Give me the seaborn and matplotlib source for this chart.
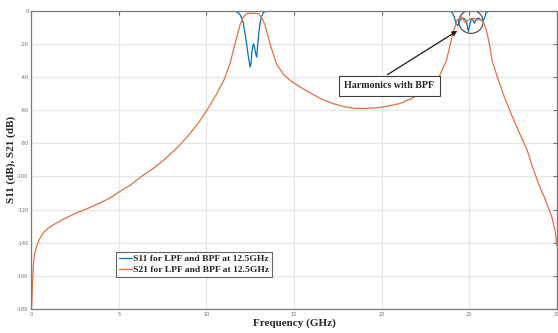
import matplotlib
matplotlib.use("Agg")
import matplotlib.pyplot as plt
from matplotlib.patches import Ellipse
import seaborn as sns
import pandas as pd

# ---- data ----
s11_freq = [0.0, 11.0, 11.5, 11.7, 11.9, 12.0, 12.1, 12.2, 12.3, 12.4, 12.5, 12.55, 12.6,
            12.68, 12.75, 12.82, 12.87, 12.92, 13.0, 13.06, 13.15, 13.25, 13.4, 13.7,
            23.5, 23.9, 24.05, 24.15, 24.25, 24.35, 24.45, 24.6, 24.75, 24.85, 24.95,
            25.02, 25.1, 25.2, 25.3, 25.4, 25.55, 25.7, 25.85, 25.95, 26.1, 26.3, 30.0]
s11_db = [0.0, 0.0, -0.1, -0.5, -2.0, -4.0, -7.0, -13.0, -20.0, -28.0, -34.0, -32.0, -25.0,
          -20.0, -22.0, -26.0, -28.0, -22.0, -13.0, -8.0, -3.5, -1.2, -0.3, 0.0,
          0.0, -0.3, -1.5, -4.0, -8.0, -9.0, -6.0, -4.5, -5.0, -7.0, -12.5,
          -9.0, -5.5, -5.5, -7.5, -5.0, -4.5, -6.0, -5.0, -1.5, -0.3, 0.0, 0.0]

s21_freq = [0.0, 0.04, 0.08, 0.13, 0.2, 0.32, 0.5, 0.7, 1.0, 1.47, 2.0, 2.6, 3.3, 3.94,
            4.5, 5.08, 5.7, 6.3, 7.0, 7.7, 8.4, 9.0, 9.6, 10.1, 10.6, 11.0, 11.35, 11.64,
            11.92, 12.1, 12.3, 12.6, 12.97, 13.15, 13.35, 13.63, 14.0, 14.4, 14.77, 15.34,
            16.0, 16.6, 17.2, 17.9, 18.5, 19.15, 19.8, 20.4, 21.05, 21.7, 22.3, 22.9, 23.3,
            23.7, 24.07, 24.3, 24.55, 24.75, 24.9, 25.05, 25.2, 25.45, 25.7, 25.85, 26.0,
            26.15, 26.3, 26.6, 27.0, 27.5, 28.0, 28.3, 28.6, 28.94, 29.3, 29.7, 29.9, 30.0]
s21_db = [-180.0, -178.0, -166.0, -154.0, -147.0, -142.0, -137.5, -134.0, -131.0, -128.0,
          -125.0, -122.0, -119.0, -116.0, -113.0, -109.0, -105.0, -100.0, -95.0, -89.0,
          -82.0, -75.0, -67.0, -59.0, -50.0, -42.0, -32.0, -20.0, -8.7, -4.0, -1.8, -1.5,
          -1.8, -4.0, -8.7, -20.0, -32.0, -38.5, -42.0, -46.0, -50.0, -53.5, -56.0, -58.0,
          -59.0, -59.0, -58.5, -57.5, -56.0, -53.0, -49.5, -45.0, -39.5, -30.0, -13.6,
          -5.7, -3.7, -7.0, -6.0, -4.8, -4.5, -5.5, -5.5, -8.0, -13.0, -20.0, -30.0, -40.0,
          -52.0, -65.0, -77.0, -84.0, -94.0, -104.0, -113.0, -124.0, -133.0, -142.0]

x_ticks = [0, 5, 10, 15, 20, 25, 30]
y_ticks = [0, -20, -40, -60, -80, -100, -120, -140, -160, -180]
series_labels = ["S11 for LPF and BPF at 12.5GHz", "S21 for LPF and BPF at 12.5GHz"]
annotation_text = "Harmonics with BPF"

df = pd.concat([
    pd.DataFrame({"f": s11_freq, "dB": s11_db, "series": series_labels[0]}),
    pd.DataFrame({"f": s21_freq, "dB": s21_db, "series": series_labels[1]}),
], ignore_index=True)

sns.set_style("white")
serif = ["Liberation Serif", "DejaVu Serif"]

fig = plt.figure(figsize=(5.58, 3.33), dpi=100)
ax = fig.add_axes([0.0556, 0.072, 0.9424, 0.896])

palette = {series_labels[0]: "#0072BD", series_labels[1]: "#E4703F"}
sns.lineplot(data=df, x="f", y="dB", hue="series", palette=palette, ax=ax,
             linewidth=0.9, sort=False, estimator=None, legend=True)

ax.set_xlim(0, 30)
ax.set_ylim(-180, 0)
ax.set_xticks(x_ticks)
ax.set_yticks(y_ticks)
ax.set_xticklabels([str(t) for t in x_ticks])
ax.set_yticklabels([str(t) for t in y_ticks])
ax.grid(True, color="#E6E6E6", linewidth=0.9)
ax.set_axisbelow(True)
ax.tick_params(axis="both", which="both", direction="in", length=3, width=0.8,
               colors="#6E6E6E", labelsize=3.6, top=True, right=True, pad=1.8)
for sp in ax.spines.values():
    sp.set_color("#7A7A7A")
    sp.set_linewidth(0.9)

ax.set_xlabel("Frequency (GHz)", fontfamily=serif, fontweight="bold", fontsize=8)
ax.set_ylabel("S11 (dB), S21 (dB)", fontfamily=serif, fontweight="bold", fontsize=8)
ax.yaxis.set_label_coords(-0.028, 0.5)
ax.xaxis.set_label_coords(0.5, -0.033)

leg = ax.legend(loc="lower left", bbox_to_anchor=(0.161, 0.108), frameon=True,
                fancybox=False, borderpad=0.3, handlelength=1.4, handletextpad=0.15,
                labelspacing=0.25, borderaxespad=0,
                prop={"family": serif, "weight": "bold", "size": 6.8})
leg.get_frame().set_edgecolor("#404040")
leg.get_frame().set_linewidth(0.8)

ax.annotate("", xy=(24.45, -11.3), xytext=(20.2, -39.5),
            arrowprops=dict(arrowstyle="-|>", color="#1A1A1A", lw=0.9, mutation_scale=7))
ax.text(20.45, -45.3, annotation_text, ha="center", va="center",
        fontfamily=serif, fontweight="bold", fontsize=7.2,
        bbox=dict(boxstyle="square,pad=0.55", facecolor="white", edgecolor="#404040", linewidth=0.8))
ax.add_patch(Ellipse((25.1, -6.7), 1.39, 14.0, fill=False, edgecolor="#404040", linewidth=0.8))

fig.savefig("out.png", dpi=100)
